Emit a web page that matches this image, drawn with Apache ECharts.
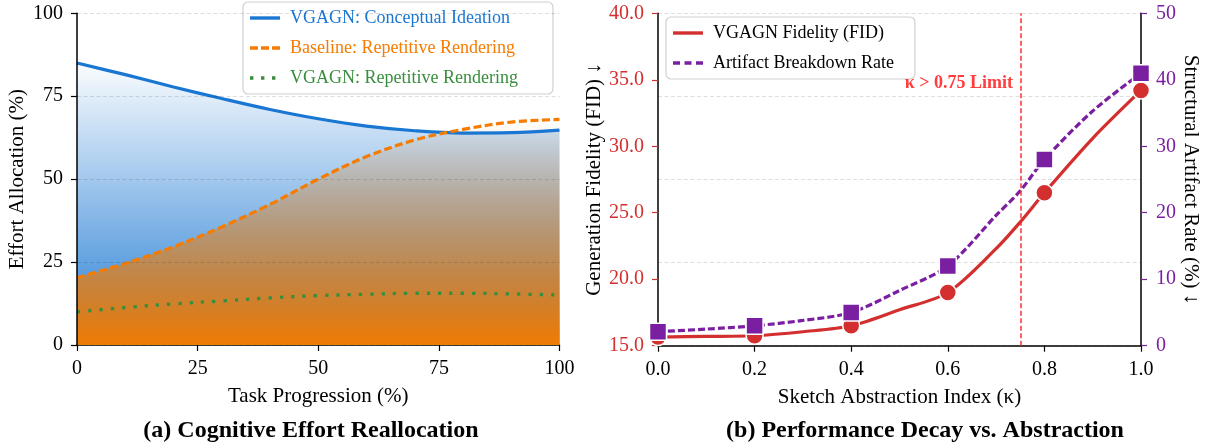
<!DOCTYPE html>
<html>
<head>
<meta charset="utf-8">
<script src="https://cdn.jsdelivr.net/npm/echarts@6/dist/echarts.min.js"></script>
<style>html,body{margin:0;padding:0;background:#fff}#c{width:1207px;height:443px}</style>
</head>
<body>
<div id="c"></div>
<script>
// ---- Panel (a) data ----
const progress = [0, 10, 20, 30, 40, 50, 60, 70, 80, 90, 100];
const conceptual = [85, 81.5, 77.8, 74.3, 71.0, 68.2, 66.0, 64.6, 63.9, 64.0, 64.8];
const baselineRep = [20.3, 24.6, 29.6, 35.6, 42.4, 50, 56.8, 61.8, 65.0, 67.2, 68];
const vgagnRep = [10, 11.3, 12.4, 13.3, 14.2, 14.9, 15.3, 15.6, 15.6, 15.4, 15.1];
// ---- Panel (b) data: markers ----
const kappa = [0, 0.2, 0.4, 0.6, 0.8, 1.0];
const fid = [15.65, 15.75, 16.5, 19.0, 26.5, 34.2];
const artifact = [2.1, 3.0, 5.0, 12.0, 28.0, 41.0];
// ---- Panel (b) data: curves ----
const kappaCurve = [0, 0.1, 0.2, 0.3, 0.4, 0.5, 0.6, 0.7, 0.75, 0.8, 0.9, 1.0];
const fidCurve = [15.65, 15.7, 15.75, 16.05, 16.5, 17.7, 19.0, 22.3, 24.3, 26.5, 30.6, 34.2];
const artifactCurve = [2.1, 2.5, 3.0, 3.8, 5.0, 8.3, 12.0, 19.6, 23.3, 28.0, 35.3, 41.0];
const kappaLimit = 0.75;
// ---- legend labels ----
const legendA = ['VGAGN: Conceptual Ideation', 'Baseline: Repetitive Rendering', 'VGAGN: Repetitive Rendering'];
const legendB = ['VGAGN Fidelity (FID)', 'Artifact Breakdown Rate'];

const FONT = 'Liberation Serif';
const BLUE = '#1976D2', ORANGE = '#F57C00', GREEN = '#388E3C', RED = '#D32F2F', PURPLE = '#7B1FA2';
const LIMIT_RED = 'rgba(255,40,40,0.9)';
const pairs = (xs, ys) => xs.map((x, i) => [x, ys[i]]);
const gridLine = {show: true, lineStyle: {color: 'rgba(0,0,0,0.13)', type: [4, 2.5], width: 1}};
const tickFont = {fontFamily: FONT, fontSize: 20, color: '#000'};
const nameFont = {fontFamily: FONT, fontSize: 21, color: '#000'};
const axLine = {show: true, lineStyle: {color: '#000', width: 1.5}};
const axTick = (c) => ({show: true, inside: false, length: 6, lineStyle: {color: c, width: 1.2}});

// legend icons (line samples), 30 x 3.4 boxes
const ICON_SOLID = 'path://M0,0h30v3.4h-30z';
const ICON_DASH = 'path://M0,0h8v3.4h-8z M11,0h8v3.4h-8z M22,0h8v3.4h-8z';
const ICON_DASH2 = 'path://M0,0h7v3.4h-7z M11.5,0h7v3.4h-7z M23,0h7v3.4h-7z';
const ICON_DOT = 'path://M0,0h3.4v3.4h-3.4z M11,0h3.4v3.4h-3.4z M22,0h3.4v3.4h-3.4z M30,0';
// empty scatter series that only feed the legend swatches
const proxy = (name, color, xi, yi) => ({name, type: 'scatter', xAxisIndex: xi, yAxisIndex: yi, data: [],
  itemStyle: {color, opacity: 1}});

const chart = echarts.init(document.getElementById('c'), null, {renderer: 'canvas'});
chart.setOption({
  animation: false,
  backgroundColor: '#fff',
  grid: [
    {left: 77, right: 1207 - 559.5, top: 13.3, bottom: 98},
    {left: 658, right: 66, top: 13.3, bottom: 97.3}
  ],
  title: [
    {text: '(a) Cognitive Effort Reallocation', left: 306, top: 414, textAlign: 'center',
     textStyle: {fontFamily: FONT, fontSize: 24, fontWeight: 'bold', color: '#000'}},
    {text: '(b) Performance Decay vs. Abstraction', left: 920, top: 414, textAlign: 'center',
     textStyle: {fontFamily: FONT, fontSize: 24, fontWeight: 'bold', color: '#000'}}
  ],
  legend: [
    {orient: 'vertical', left: 243, top: 2, itemWidth: 30, itemHeight: 3.4, itemGap: 10,
     padding: [6, 35, 6, 7], backgroundColor: 'rgba(255,255,255,0.85)', borderColor: '#d0d0d0', borderWidth: 1.2, borderRadius: 5,
     textStyle: {fontFamily: FONT, fontSize: 18, lineHeight: 20, padding: [0, 0, 0, 5]},
     data: [
       {name: legendA[0], icon: ICON_SOLID, textStyle: {color: BLUE}},
       {name: legendA[1], icon: ICON_DASH, textStyle: {color: ORANGE}},
       {name: legendA[2], icon: ICON_DOT, textStyle: {color: GREEN}}
     ]},
    {orient: 'vertical', left: 666, top: 17, itemWidth: 30, itemHeight: 3.4, itemGap: 10,
     padding: [6, 21, 6, 7], backgroundColor: 'rgba(255,255,255,0.85)', borderColor: '#d0d0d0', borderWidth: 1.2, borderRadius: 5,
     textStyle: {fontFamily: FONT, fontSize: 18, lineHeight: 20, color: '#000', padding: [0, 0, 0, 5]},
     data: [
       {name: legendB[0], icon: ICON_SOLID},
       {name: legendB[1], icon: ICON_DASH2}
     ]}
  ],
  xAxis: [
    {type: 'value', gridIndex: 0, min: 0, max: 100, interval: 25,
     name: 'Task Progression (%)', nameLocation: 'middle', nameGap: 41, nameTextStyle: nameFont,
     axisLine: axLine, axisTick: axTick('#000'), axisLabel: Object.assign({margin: 14}, tickFont), splitLine: {show: false}},
    {type: 'value', gridIndex: 1, min: 0, max: 1, interval: 0.2,
     name: 'Sketch Abstraction Index (κ)', nameLocation: 'middle', nameGap: 41, nameTextStyle: nameFont,
     axisLine: axLine, axisTick: axTick('#000'),
     axisLabel: Object.assign({margin: 14, formatter: v => v.toFixed(1)}, tickFont), splitLine: {show: false}}
  ],
  yAxis: [
    {type: 'value', gridIndex: 0, min: 0, max: 100, interval: 25, z: 5,
     name: 'Effort Allocation (%)', nameLocation: 'middle', nameGap: 49, nameTextStyle: nameFont,
     axisLine: axLine, axisTick: axTick('#000'), axisLabel: Object.assign({margin: 14}, tickFont), splitLine: gridLine},
    {type: 'value', gridIndex: 1, min: 15, max: 40, interval: 5, position: 'left',
     name: 'Generation Fidelity (FID) ↓', nameLocation: 'middle', nameGap: 48, nameTextStyle: nameFont,
     axisLine: axLine, axisTick: axTick(RED),
     axisLabel: Object.assign({}, tickFont, {margin: 14, color: RED, formatter: v => v.toFixed(1)}), splitLine: {show: false}},
    {type: 'value', gridIndex: 1, min: 0, max: 50, interval: 10, position: 'right',
     name: 'Structural Artifact Rate (%) ↓', nameLocation: 'middle', nameGap: 37, nameRotate: -90, nameTextStyle: nameFont,
     axisLine: axLine, axisTick: axTick(PURPLE),
     axisLabel: Object.assign({}, tickFont, {margin: 15, color: PURPLE}), splitLine: {show: false}},
    {type: 'value', gridIndex: 1, min: 0, max: 4, interval: 1, position: 'left', show: true,
     axisLine: {show: false}, axisTick: {show: false}, axisLabel: {show: false}, splitLine: gridLine}
  ],
  series: [
    {name: 'conceptual', type: 'line', xAxisIndex: 0, yAxisIndex: 0,
     data: pairs(progress, conceptual), smooth: 0.35, symbol: 'none',
     lineStyle: {color: BLUE, width: 3.2}, itemStyle: {color: BLUE},
     areaStyle: {opacity: 1, color: new echarts.graphic.LinearGradient(0, 0, 0, 1, [
       {offset: 0, color: 'rgba(25,118,210,0.02)'}, {offset: 1, color: 'rgba(25,118,210,0.95)'}])}},
    {name: 'baselineRep', type: 'line', xAxisIndex: 0, yAxisIndex: 0,
     data: pairs(progress, baselineRep), smooth: 0.35, symbol: 'none',
     lineStyle: {color: ORANGE, width: 3.2, type: [8, 3.5]}, itemStyle: {color: ORANGE},
     areaStyle: {opacity: 1, color: new echarts.graphic.LinearGradient(0, 0, 0, 1, [
       {offset: 0, color: 'rgba(245,124,0,0.0)'}, {offset: 1, color: 'rgba(240,124,4,1)'}])}},
    {name: 'vgagnRep', type: 'line', xAxisIndex: 0, yAxisIndex: 0,
     data: pairs(progress, vgagnRep), smooth: 0.35, symbol: 'none',
     lineStyle: {color: GREEN, width: 3.3, type: [3.3, 8], cap: 'butt'}, itemStyle: {color: GREEN}},
    {name: 'fidCurve', type: 'line', xAxisIndex: 1, yAxisIndex: 1, clip: false,
     data: pairs(kappaCurve, fidCurve), smooth: 0.3, symbol: 'none',
     lineStyle: {color: RED, width: 3.2}, itemStyle: {color: RED},
     markLine: {silent: true, symbol: 'none', label: {show: false},
       lineStyle: {color: LIMIT_RED, width: 1.6, type: [5, 2.5]},
       data: [{xAxis: kappaLimit}]}},
    {name: 'fidMarkers', type: 'scatter', xAxisIndex: 1, yAxisIndex: 1, clip: false, z: 3,
     data: pairs(kappa, fid), symbol: 'circle', symbolSize: 17,
     itemStyle: {color: RED, borderColor: '#fff', borderWidth: 1.5, opacity: 1}},
    {name: 'artifactCurve', type: 'line', xAxisIndex: 1, yAxisIndex: 2, clip: false, z: 4,
     data: pairs(kappaCurve, artifactCurve), smooth: 0.3, symbol: 'none',
     lineStyle: {color: PURPLE, width: 3.2, type: [7, 3]}, itemStyle: {color: PURPLE}},
    {name: 'artifactMarkers', type: 'scatter', xAxisIndex: 1, yAxisIndex: 2, clip: false, z: 5,
     data: pairs(kappa, artifact), symbol: 'rect', symbolSize: 17,
     itemStyle: {color: PURPLE, borderColor: '#fff', borderWidth: 1.5, opacity: 1}},
    proxy(legendA[0], BLUE, 0, 0), proxy(legendA[1], ORANGE, 0, 0), proxy(legendA[2], GREEN, 0, 0),
    proxy(legendB[0], RED, 1, 1), proxy(legendB[1], PURPLE, 1, 2)
  ],
  graphic: [
    {type: 'text', x: 1013, y: 83, z: 10,
     style: {text: 'κ > 0.75 Limit', fontFamily: FONT, fontSize: 18, fontWeight: 'bold',
             fill: LIMIT_RED, textAlign: 'right', textVerticalAlign: 'middle'}}
  ]
});
</script>
</body>
</html>
